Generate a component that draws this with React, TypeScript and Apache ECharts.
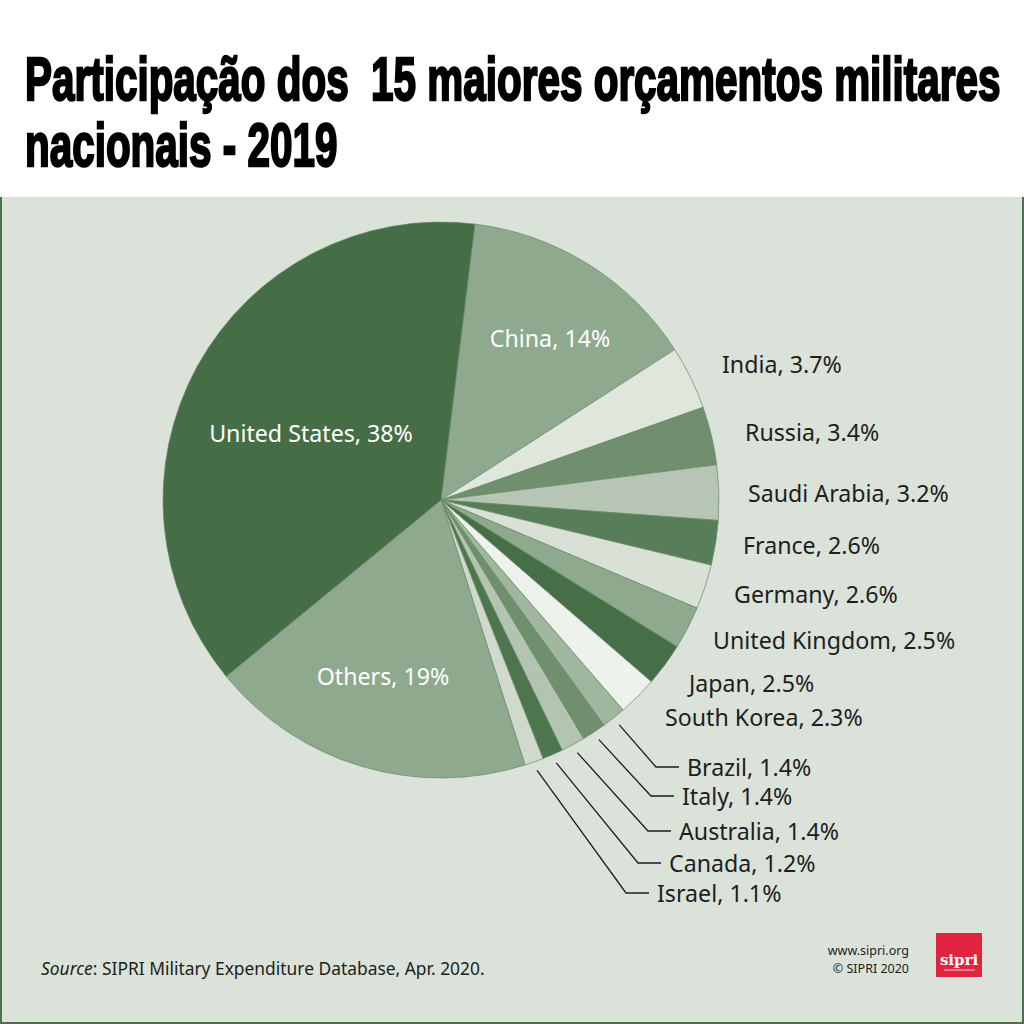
import React, { useEffect, useRef } from 'react';
import * as echarts from 'echarts';

// ---------- data ----------
const categories = [
  'China', 'India', 'Russia', 'Saudi Arabia', 'France', 'Germany', 'United Kingdom',
  'Japan', 'South Korea', 'Brazil', 'Italy', 'Australia', 'Canada', 'Israel', 'Others', 'United States',
];
const shares = [14, 3.7, 3.4, 3.2, 2.6, 2.6, 2.5, 2.5, 2.3, 1.4, 1.4, 1.4, 1.2, 1.1, 19, 38];
const sliceColors = [
  '#8fa98e', '#dfe6dc', '#6f8f6e', '#b7c6b4', '#587e59', '#d9e1d6', '#8fa98e',
  '#466f47', '#eef2ec', '#a0b69e', '#6f8f6e', '#b3c4b1', '#4d764d', '#cfd9cc', '#8fa98e', '#456e47',
];
const titleLines = ['Participação dos  15 maiores orçamentos militares', 'nacionais - 2019'];
const sourceLabel = 'Source';
const sourceRest = ': SIPRI Military Expenditure Database, Apr. 2020.';
const creditLines = ['www.sipri.org', '© SIPRI 2020'];
const logoText = 'sipri';

// ---------- layout (not data) ----------
const CX = 441;
const CY = 500;
const RADIUS = 278;
const R_LINE = 287;
const START_ANGLE = 83.0;
// label anchor: x, y, mode ('in' centered inside, 'out' left aligned, 'line' with leader)
const LABEL_ANCHORS: [number, number, string][] = [
  [550, 338, 'in'],
  [722, 364, 'out'],
  [745, 432, 'out'],
  [748, 493, 'out'],
  [743, 545, 'out'],
  [734, 594, 'out'],
  [713, 640, 'out'],
  [689, 683, 'out'],
  [665, 717, 'out'],
  [687, 767, 'line'],
  [682, 796, 'line'],
  [679, 831, 'line'],
  [669, 863, 'line'],
  [657, 893, 'line'],
  [383, 676, 'in'],
  [311, 433, 'in'],
];

const LABEL_FONT = 'Noto Sans';

function midAngleRad(i: number): number {
  const total = shares.reduce((a, b) => a + b, 0);
  let cum = 0;
  for (let k = 0; k < i; k++) cum += shares[k];
  const mid = cum + shares[i] / 2;
  return ((START_ANGLE - (360 * mid) / total) * Math.PI) / 180;
}

function measure(text: string, font: string): number {
  const c = document.createElement('canvas');
  const ctx = c.getContext('2d');
  if (!ctx) return text.length * 30;
  ctx.font = font;
  return ctx.measureText(text).width;
}

export default function App() {
  const ref = useRef<HTMLDivElement>(null);

  useEffect(() => {
    if (!ref.current) return;
    const chart = echarts.init(ref.current, undefined, { renderer: 'svg' });

    const titleSize = 61;
    const titleFont = `bold ${titleSize}px "Liberation Sans"`;
    const w1 = measure(titleLines[0], titleFont);
    const titleScale = 975 / w1;

    const data = categories.map((name, i) => {
      const mode = LABEL_ANCHORS[i][2];
      const item: any = {
        name,
        value: shares[i],
        itemStyle: { color: sliceColors[i] },
      };
      if (mode === 'in') {
        item.label = { position: 'inside', color: '#ffffff' };
        item.labelLine = { show: false };
      } else if (mode === 'out') {
        item.labelLine = { show: false };
      }
      return item;
    });

    const option: any = {
      animation: false,
      backgroundColor: '#ffffff',
      graphic: [
        {
          type: 'rect',
          z: -10,
          shape: { x: 0, y: 197, width: 1024, height: 827 },
          style: { fill: '#dae2d9' },
          silent: true,
        },
        {
          type: 'line',
          z: -5,
          shape: { x1: 1, y1: 197, x2: 1, y2: 1023 },
          style: { stroke: '#4a7349', lineWidth: 2 },
          silent: true,
        },
        {
          type: 'line',
          z: -5,
          shape: { x1: 1023, y1: 197, x2: 1023, y2: 1023 },
          style: { stroke: '#4a7349', lineWidth: 2 },
          silent: true,
        },
        {
          type: 'line',
          z: -5,
          shape: { x1: 0, y1: 1023, x2: 1024, y2: 1023 },
          style: { stroke: '#4a7349', lineWidth: 2 },
          silent: true,
        },
        ...titleLines.map((t, k) => ({
          type: 'text',
          x: 25,
          y: 79 + k * 66,
          scaleX: titleScale,
          silent: true,
          style: {
            text: t,
            fill: '#000000',
            stroke: '#000000',
            lineWidth: 2.4,
            fontSize: titleSize,
            fontWeight: 'bold',
            fontFamily: 'Liberation Sans',
            align: 'left',
            verticalAlign: 'middle',
            whiteSpace: 'pre',
          },
        })),
        {
          type: 'text',
          x: 41,
          y: 968,
          silent: true,
          style: {
            text: `{i|${sourceLabel}}${sourceRest}`,
            fill: '#1e1e1e',
            fontSize: 17.4,
            fontFamily: LABEL_FONT,
            align: 'left',
            verticalAlign: 'middle',
            rich: {
              i: { fontStyle: 'italic', fontSize: 17.4, fontFamily: LABEL_FONT, fill: '#1e1e1e' },
            },
          },
        },
        ...creditLines.map((t, k) => ({
          type: 'text',
          x: 909,
          y: 950 + k * 18,
          silent: true,
          style: {
            text: t,
            fill: '#1e1e1e',
            fontSize: 12.5,
            fontFamily: LABEL_FONT,
            align: 'right',
            verticalAlign: 'middle',
          },
        })),
        {
          type: 'rect',
          shape: { x: 936, y: 933, width: 46, height: 44 },
          style: { fill: '#e0243f' },
          silent: true,
        },
        {
          type: 'text',
          x: 959,
          y: 960,
          silent: true,
          style: {
            text: logoText,
            fill: '#ffffff',
            fontSize: 15,
            fontWeight: 'bold',
            fontFamily: 'DejaVu Serif',
            align: 'center',
            verticalAlign: 'middle',
          },
        },
        {
          type: 'line',
          shape: { x1: 944, y1: 970, x2: 975, y2: 970 },
          style: { stroke: '#ffffff', lineWidth: 0.8 },
          silent: true,
        },
      ],
      series: [
        {
          type: 'pie',
          silent: true,
          center: [CX, CY],
          radius: RADIUS,
          startAngle: START_ANGLE,
          clockwise: true,
          avoidLabelOverlap: false,
          minShowLabelAngle: 0,
          itemStyle: { borderColor: '#6a8b6a', borderWidth: 0.7 },
          label: {
            show: true,
            position: 'outside',
            formatter: '{b}, {c}%',
            fontSize: 23.2,
            fontFamily: LABEL_FONT,
            color: '#1e1e1e',
          },
          labelLine: {
            show: true,
            lineStyle: { color: '#1e1e1e', width: 1.3 },
          },
          labelLayout: (p: any) => {
            const i = p.dataIndex;
            const a = LABEL_ANCHORS[i];
            if (a[2] === 'in') {
              return { x: a[0], y: a[1], align: 'center', verticalAlign: 'middle' };
            }
            if (a[2] === 'out') {
              return { x: a[0], y: a[1], align: 'left', verticalAlign: 'middle' };
            }
            const ang = midAngleRad(i);
            const sx = CX + R_LINE * Math.cos(ang);
            const sy = CY - R_LINE * Math.sin(ang);
            return {
              x: a[0],
              y: a[1],
              align: 'left',
              verticalAlign: 'middle',
              labelLinePoints: [
                [sx, sy],
                [a[0] - 31, a[1]],
                [a[0] - 8, a[1]],
              ],
            };
          },
          data,
        },
      ],
    };

    chart.setOption(option);
    return () => chart.dispose();
  }, []);

  return (
    <div
      ref={ref}
      style={{ position: 'absolute', left: 0, top: 0, width: 1024, height: 1024 }}
    />
  );
}
